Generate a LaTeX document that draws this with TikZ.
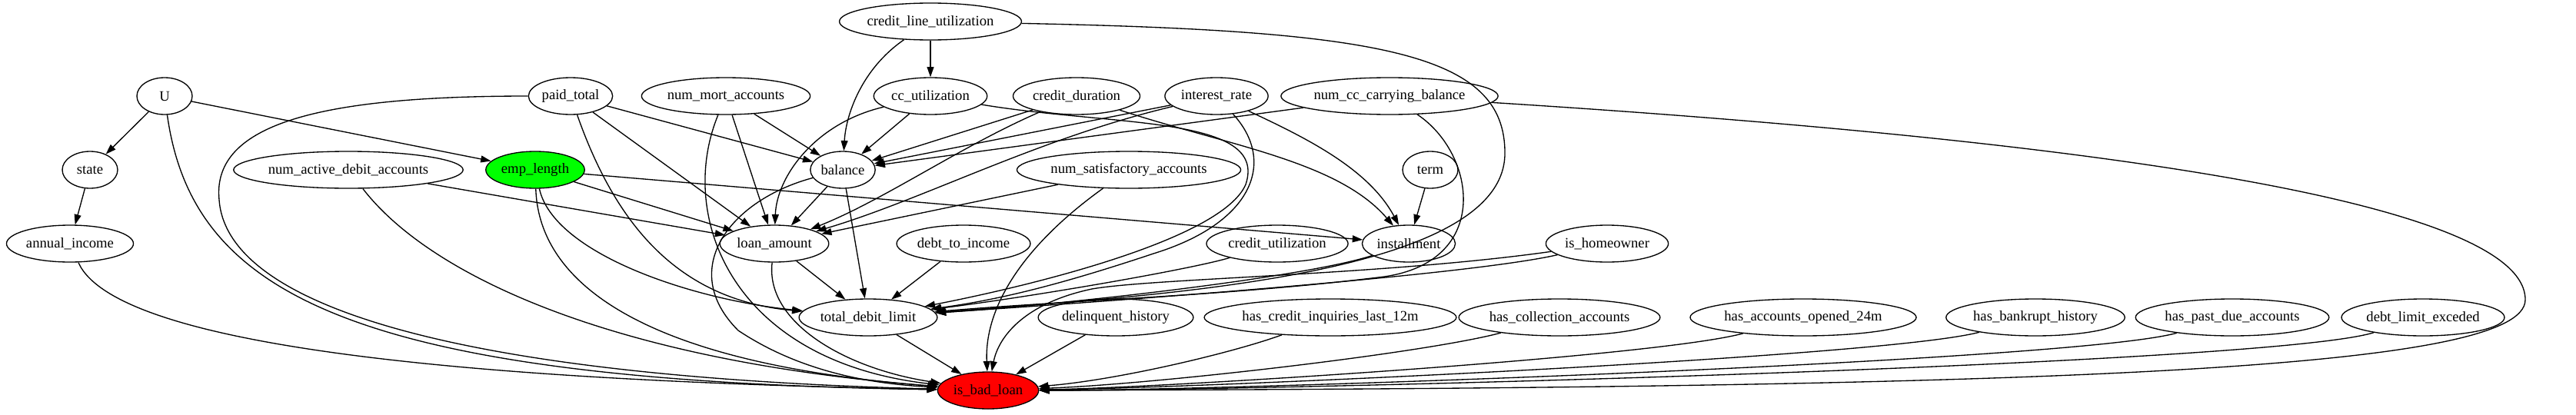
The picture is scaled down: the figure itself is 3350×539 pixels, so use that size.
\documentclass[tikz,border=0pt]{standalone}
\usepackage{fontspec}
\setmainfont{Liberation Serif}
\usetikzlibrary{shapes.geometric,arrows.meta}
\definecolor{gvgreen}{RGB}{0,255,0}
\definecolor{gvred}{RGB}{255,0,0}
\begin{document}
\begin{tikzpicture}[x=0.75pt,y=0.75pt,
  nd/.style={ellipse,draw,line width=1pt,font=\fontsize{14}{16}\selectfont,inner xsep=1pt,inner ysep=1pt,minimum width=54pt,minimum height=36pt},
  ed/.style={line width=1pt,-{Triangle[length=10pt,width=6.7pt]}}]
\useasboundingbox (0,0) rectangle (3350,-539);
% row 0
\node[nd] (clu) at (1210,-28) {credit\_line\_utilization};
% row 1
\node[nd] (U) at (214,-125) {U};
\node[nd] (pt) at (742,-125) {paid\_total};
\node[nd] (nm) at (944,-125) {num\_mort\_accounts};
\node[nd] (ccu) at (1210,-125) {cc\_utilization};
\node[nd] (cd) at (1400,-125) {credit\_duration};
\node[nd] (ir) at (1582,-125) {interest\_rate};
\node[nd] (ncc) at (1807,-125) {num\_cc\_carrying\_balance};
% row 2
\node[nd] (state) at (117,-221) {state};
\node[nd] (nadc) at (453,-221) {num\_active\_debit\_accounts};
\node[nd,fill=gvgreen] (emp) at (696,-221) {emp\_length};
\node[nd] (bal) at (1096,-221) {balance};
\node[nd] (nsat) at (1468,-221) {num\_satisfactory\_accounts};
\node[nd] (term) at (1860,-221) {term};
% row 3
\node[nd] (ai) at (91,-317) {annual\_income};
\node[nd] (loan) at (1007,-317) {loan\_amount};
\node[nd] (dti) at (1253,-317) {debt\_to\_income};
\node[nd] (cu) at (1661,-317) {credit\_utilization};
\node[nd] (inst) at (1832,-317) {installment};
\node[nd] (ih) at (2090,-317) {is\_homeowner};
% row 4
\node[nd] (tdl) at (1129,-413) {total\_debit\_limit};
\node[nd] (dh) at (1451,-413) {delinquent\_history};
\node[nd] (hci) at (1730,-413) {has\_credit\_inquiries\_last\_12m};
\node[nd] (hca) at (2028,-413) {has\_collection\_accounts};
\node[nd] (hao) at (2345,-413) {has\_accounts\_opened\_24m};
\node[nd] (hbh) at (2647,-413) {has\_bankrupt\_history};
\node[nd] (hpd) at (2903,-413) {has\_past\_due\_accounts};
\node[nd] (dle) at (3151,-413) {debt\_limit\_exceded};
% row 5
\node[nd,fill=gvred] (bad) at (1285,-508) {is\_bad\_loan};

% edges
\draw[ed] (U) -- (state);
\draw[ed] (U) -- (emp);
\draw[ed] (U) .. controls (250,-380) and (450,-495) .. (bad);
\draw[ed] (state) -- (ai);
\draw[ed] (ai) .. controls (150,-450) and (600,-495) .. (bad);
\draw[ed] (pt) .. controls (420,-125) and (275,-160) .. (285,-260) .. controls (295,-400) and (600,-490) .. (bad);
\draw[ed] (pt) -- (bal);
\draw[ed] (pt) -- (loan);
\draw[ed] (pt) .. controls (800,-290) and (880,-390) .. (tdl);
\draw[ed] (nm) -- (bal);
\draw[ed] (nm) -- (loan);
\draw[ed] (nm) .. controls (880,-280) and (950,-470) .. (bad);
\draw[ed] (clu) -- (ccu);
\draw[ed] (clu) .. controls (1120,-90) and (1100,-150) .. (bal);
\draw[ed] (clu) .. controls (1800,-40) and (1958,-70) .. (1957,-200) .. controls (1956,-360) and (1500,-385) .. (tdl);
\draw[ed] (ccu) -- (bal);
\draw[ed] (ccu) .. controls (1060,-160) and (1010,-230) .. (loan);
\draw[ed] (ccu) .. controls (1450,-165) and (1650,-150) .. (1620,-240) .. controls (1590,-310) and (1350,-370) .. (tdl);
\draw[ed] (cd) -- (bal);
\draw[ed] (cd) .. controls (1250,-190) and (1150,-260) .. (loan);
\draw[ed] (cd) .. controls (1600,-190) and (1740,-210) .. (inst);
\draw[ed] (ir) -- (bal);
\draw[ed] (ir) .. controls (1350,-180) and (1200,-260) .. (loan);
\draw[ed] (ir) .. controls (1700,-180) and (1780,-220) .. (inst);
\draw[ed] (ir) .. controls (1660,-210) and (1630,-290) .. (1500,-330) .. controls (1380,-370) and (1300,-390) .. (tdl);
\draw[ed] (ncc) -- (bal);
\draw[ed] (ncc) .. controls (1920,-200) and (1940,-340) .. (1800,-360) .. controls (1600,-385) and (1400,-390) .. (tdl);
\draw[ed] (ncc) .. controls (2600,-175) and (3284,-250) .. (3284,-390) .. controls (3284,-480) and (2700,-505) .. (bad);
\draw[ed] (nadc) -- (loan);
\draw[ed] (nadc) .. controls (560,-360) and (800,-470) .. (bad);
\draw[ed] (emp) .. controls (700,-350) and (800,-470) .. (bad);
\draw[ed] (emp) .. controls (720,-330) and (900,-390) .. (tdl);
\draw[ed] (emp) -- (loan);
\draw[ed] (emp) -- (inst);
\draw[ed] (bal) -- (loan);
\draw[ed] (bal) -- (tdl);
\draw[ed] (bal) .. controls (950,-260) and (880,-350) .. (960,-430) .. controls (1050,-490) and (1150,-500) .. (bad);
\draw[ed] (nsat) -- (loan);
\draw[ed] (nsat) .. controls (1330,-320) and (1280,-400) .. (bad);
\draw[ed] (term) -- (inst);
\draw[ed] (loan) -- (tdl);
\draw[ed] (loan) .. controls (995,-420) and (1100,-480) .. (bad);
\draw[ed] (dti) -- (tdl);
\draw[ed] (cu) .. controls (1550,-350) and (1350,-385) .. (tdl);
\draw[ed] (inst) .. controls (1700,-360) and (1400,-395) .. (tdl);
\draw[ed] (ih) .. controls (1900,-360) and (1400,-395) .. (tdl);
\draw[ed] (ih) .. controls (1800,-358) and (1500,-362) .. (1420,-376) .. controls (1330,-395) and (1298,-440) .. (bad);
\draw[ed] (tdl) -- (bad);
\draw[ed] (dh) -- (bad);
\draw[ed] (hci) .. controls (1600,-460) and (1450,-495) .. (bad);
\draw[ed] (hca) .. controls (1850,-460) and (1500,-500) .. (bad);
\draw[ed] (hao) .. controls (2150,-465) and (1500,-505) .. (bad);
\draw[ed] (hbh) .. controls (2450,-465) and (1550,-505) .. (bad);
\draw[ed] (hpd) .. controls (2700,-470) and (1600,-508) .. (bad);
\draw[ed] (dle) .. controls (2950,-475) and (1650,-508) .. (bad);
\end{tikzpicture}
\end{document}
